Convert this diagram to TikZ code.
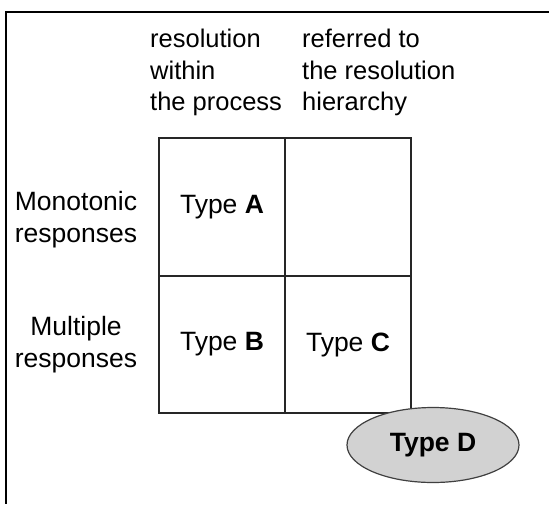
\documentclass[tikz,border=0pt]{standalone}
\usepackage{fontspec}
\setmainfont{Liberation Sans}
\usetikzlibrary{shapes.geometric}
\begin{document}
\begin{tikzpicture}[x=1pt,y=-1pt,
  cell/.style={draw=black!85,line width=1.6pt,minimum width=126pt,minimum height=138pt,inner sep=0pt,font=\fontsize{26.5}{30}\selectfont},
  hdr/.style={align=left,anchor=north west,inner sep=0pt,font=\fontsize{25.5}{31.5}\selectfont},
  side/.style={align=center,inner sep=0pt,font=\fontsize{26.5}{32}\selectfont},
  oval/.style={ellipse,draw=black!75,line width=1.2pt,fill=gray!35,minimum width=172pt,minimum height=75pt,inner sep=0pt,font=\bfseries\fontsize{26.5}{30}\selectfont}]
\useasboundingbox (0,0) rectangle (549,504);
\fill[white] (0,0) rectangle (549,504);
\coordinate (tl) at (6,12);
\coordinate (tr) at (549,12);
\coordinate (bl) at (6,504);
\draw[line width=1.8pt] (tr) -- (tl) -- (bl);
\node[hdr] (h1) at (150,29) {resolution\\within\\the process};
\node[hdr] (h2) at (302,29) {referred to\\the resolution\\hierarchy};
\node[side] (m1) at (76,220) {Monotonic\\responses};
\node[side] (m2) at (76,345) {Multiple\\responses};
\node[cell] (A) at (222,207) {Type \textbf{A}};
\node[cell] (E) at (348,207) {};
\node[cell,minimum height=137pt] (B) at (222,344.5) {Type \textbf{B}};
\node[cell,minimum height=137pt] (C) at (348,344.5) {Type \textbf{C}};
\node[oval] (D) at (433,445) {Type D};
\end{tikzpicture}
\end{document}
